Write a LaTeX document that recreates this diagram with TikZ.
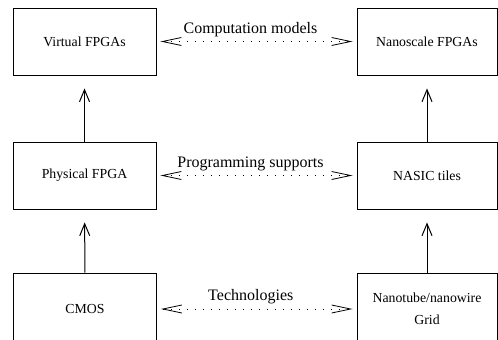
\documentclass[tikz,border=0pt]{standalone}
\usepackage{fontspec}
\setmainfont{Liberation Serif}
\usetikzlibrary{arrows.meta}

\begin{document}
\begin{tikzpicture}[x=1pt, y=-1pt,
    box/.style={draw, line width=.9pt, minimum width=143pt, minimum height=67pt, inner sep=0pt, align=center, font=\fontsize{13.8}{22}\selectfont},
    up/.style={-{Straight Barb[length=12pt, width=10pt]}, line width=1pt, shorten >=13pt},
    link/.style={{Straight Barb[length=19pt, width=8pt]}-{Straight Barb[length=19pt, width=8pt]}, line width=.8pt, dash pattern=on .8pt off 7.2pt, shorten <=4pt, shorten >=4pt},
    lbl/.style={above=1pt, pos=.47, font=\fontsize{16}{18}\selectfont}]

    \useasboundingbox (0, 0) rectangle (498, 340);

    \node[box] (virt) at (84.5, 41.5) {Virtual FPGAs};
    \node[box, minimum width=140pt] (nano) at (427, 41.5) {Nanoscale FPGAs};
    \node[box] (phys) at (84.5, 175.5) {Physical FPGA};
    \node[box, minimum width=140pt] (nasic) at (427, 175.5) {NASIC tiles};
    \node[box, minimum height=72pt] (cmos) at (85, 309) {CMOS};
    \node[box, minimum width=140pt, minimum height=72pt] (tube) at (427, 309) {Nanotube/nanowire\\Grid};

    \foreach \A/\B in {phys/virt, nasic/nano, cmos/phys, tube/nasic}
        \draw[up] (\A) -- (\B);

    \foreach \A/\B/\t in {virt/nano/Computation models, phys/nasic/Programming supports, cmos/tube/Technologies}
        \draw[link] (\A) -- node[lbl] {\t} (\B);

\end{tikzpicture}
\end{document}
